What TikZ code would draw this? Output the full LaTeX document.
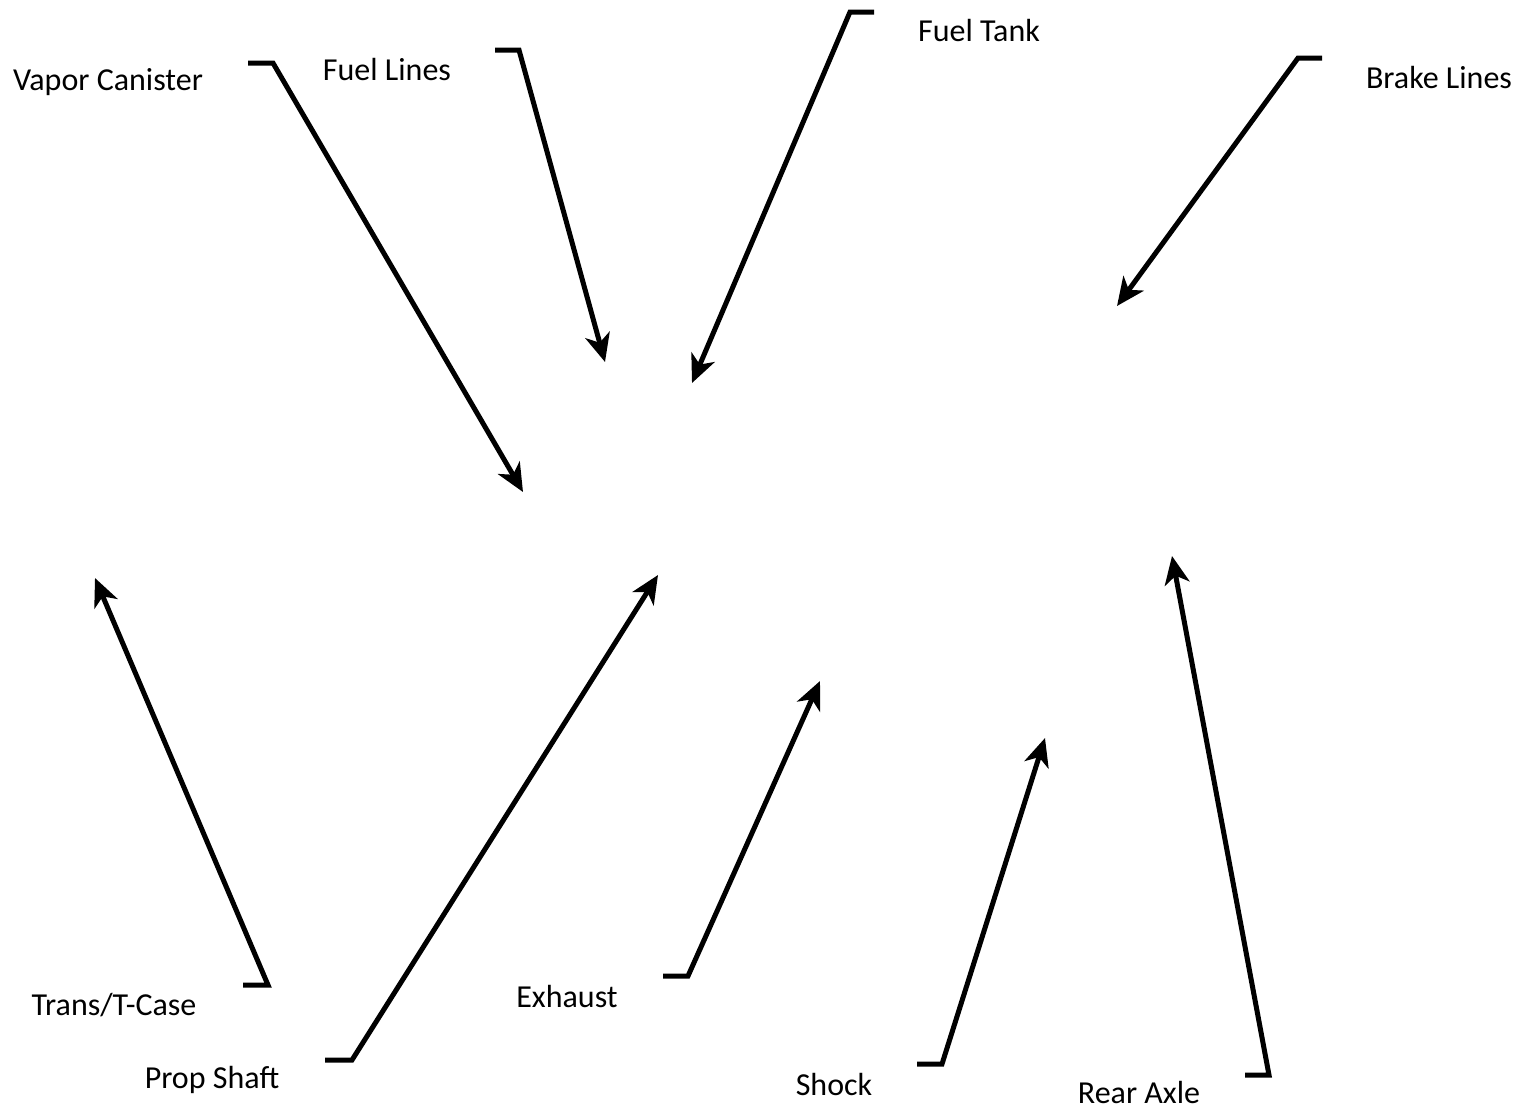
\documentclass[tikz,border=0pt]{standalone}
\usepackage{fontspec}
\setmainfont{Carlito}
\usepackage{tikz}
\usetikzlibrary{arrows.meta}

\begin{document}
\begin{tikzpicture}[
    x=1pt, y=-1pt,
    part/.style={font=\fontsize{32}{38}\selectfont, inner sep=0pt},
    pointer/.style={-{Stealth[length=28pt, width=25pt, inset=8pt]}, line width=5pt, black}
]
\useasboundingbox (0,0) rectangle (1528,1109);

% Labels
\node[part] (vapor) at (108,82) {Vapor Canister};
\node[part] (fuellines) at (387,70) {Fuel Lines};
\node[part] (fueltank) at (979,31) {Fuel Tank};
\node[part] (brake) at (1439,78) {Brake Lines};
\node[part] (trans) at (114,1005) {Trans/T-Case};
\node[part] (prop) at (212,1080) {Prop Shaft};
\node[part] (exhaust) at (567,996) {Exhaust};
\node[part] (shock) at (834,1084) {Shock};
\node[part] (axle) at (1139,1092) {Rear Axle};

% Leader ends
\coordinate (vapor-a) at (248,63);   \coordinate (vapor-b) at (273,63);   \coordinate (vapor-c) at (523,492);
\coordinate (fuellines-a) at (495,50); \coordinate (fuellines-b) at (519,50); \coordinate (fuellines-c) at (605,362);
\coordinate (fueltank-a) at (874,12); \coordinate (fueltank-b) at (850,12); \coordinate (fueltank-c) at (692,383);
\coordinate (brake-a) at (1322,58);  \coordinate (brake-b) at (1298,58);  \coordinate (brake-c) at (1117,306);
\coordinate (trans-a) at (243,985);  \coordinate (trans-b) at (268,985);  \coordinate (trans-c) at (95,578);
\coordinate (prop-a) at (325,1060);  \coordinate (prop-b) at (352,1060);  \coordinate (prop-c) at (658,575);
\coordinate (exhaust-a) at (663,976); \coordinate (exhaust-b) at (688,976); \coordinate (exhaust-c) at (820,681);
\coordinate (shock-a) at (917,1064); \coordinate (shock-b) at (942,1064); \coordinate (shock-c) at (1045,738);
\coordinate (axle-a) at (1245,1075); \coordinate (axle-b) at (1269,1075); \coordinate (axle-c) at (1172,556);

% Leaders
\foreach \p in {vapor,fuellines,fueltank,brake,trans,prop,exhaust,shock,axle}
  \draw[pointer] (\p-a) -- (\p-b) -- (\p-c);
\end{tikzpicture}
\end{document}
